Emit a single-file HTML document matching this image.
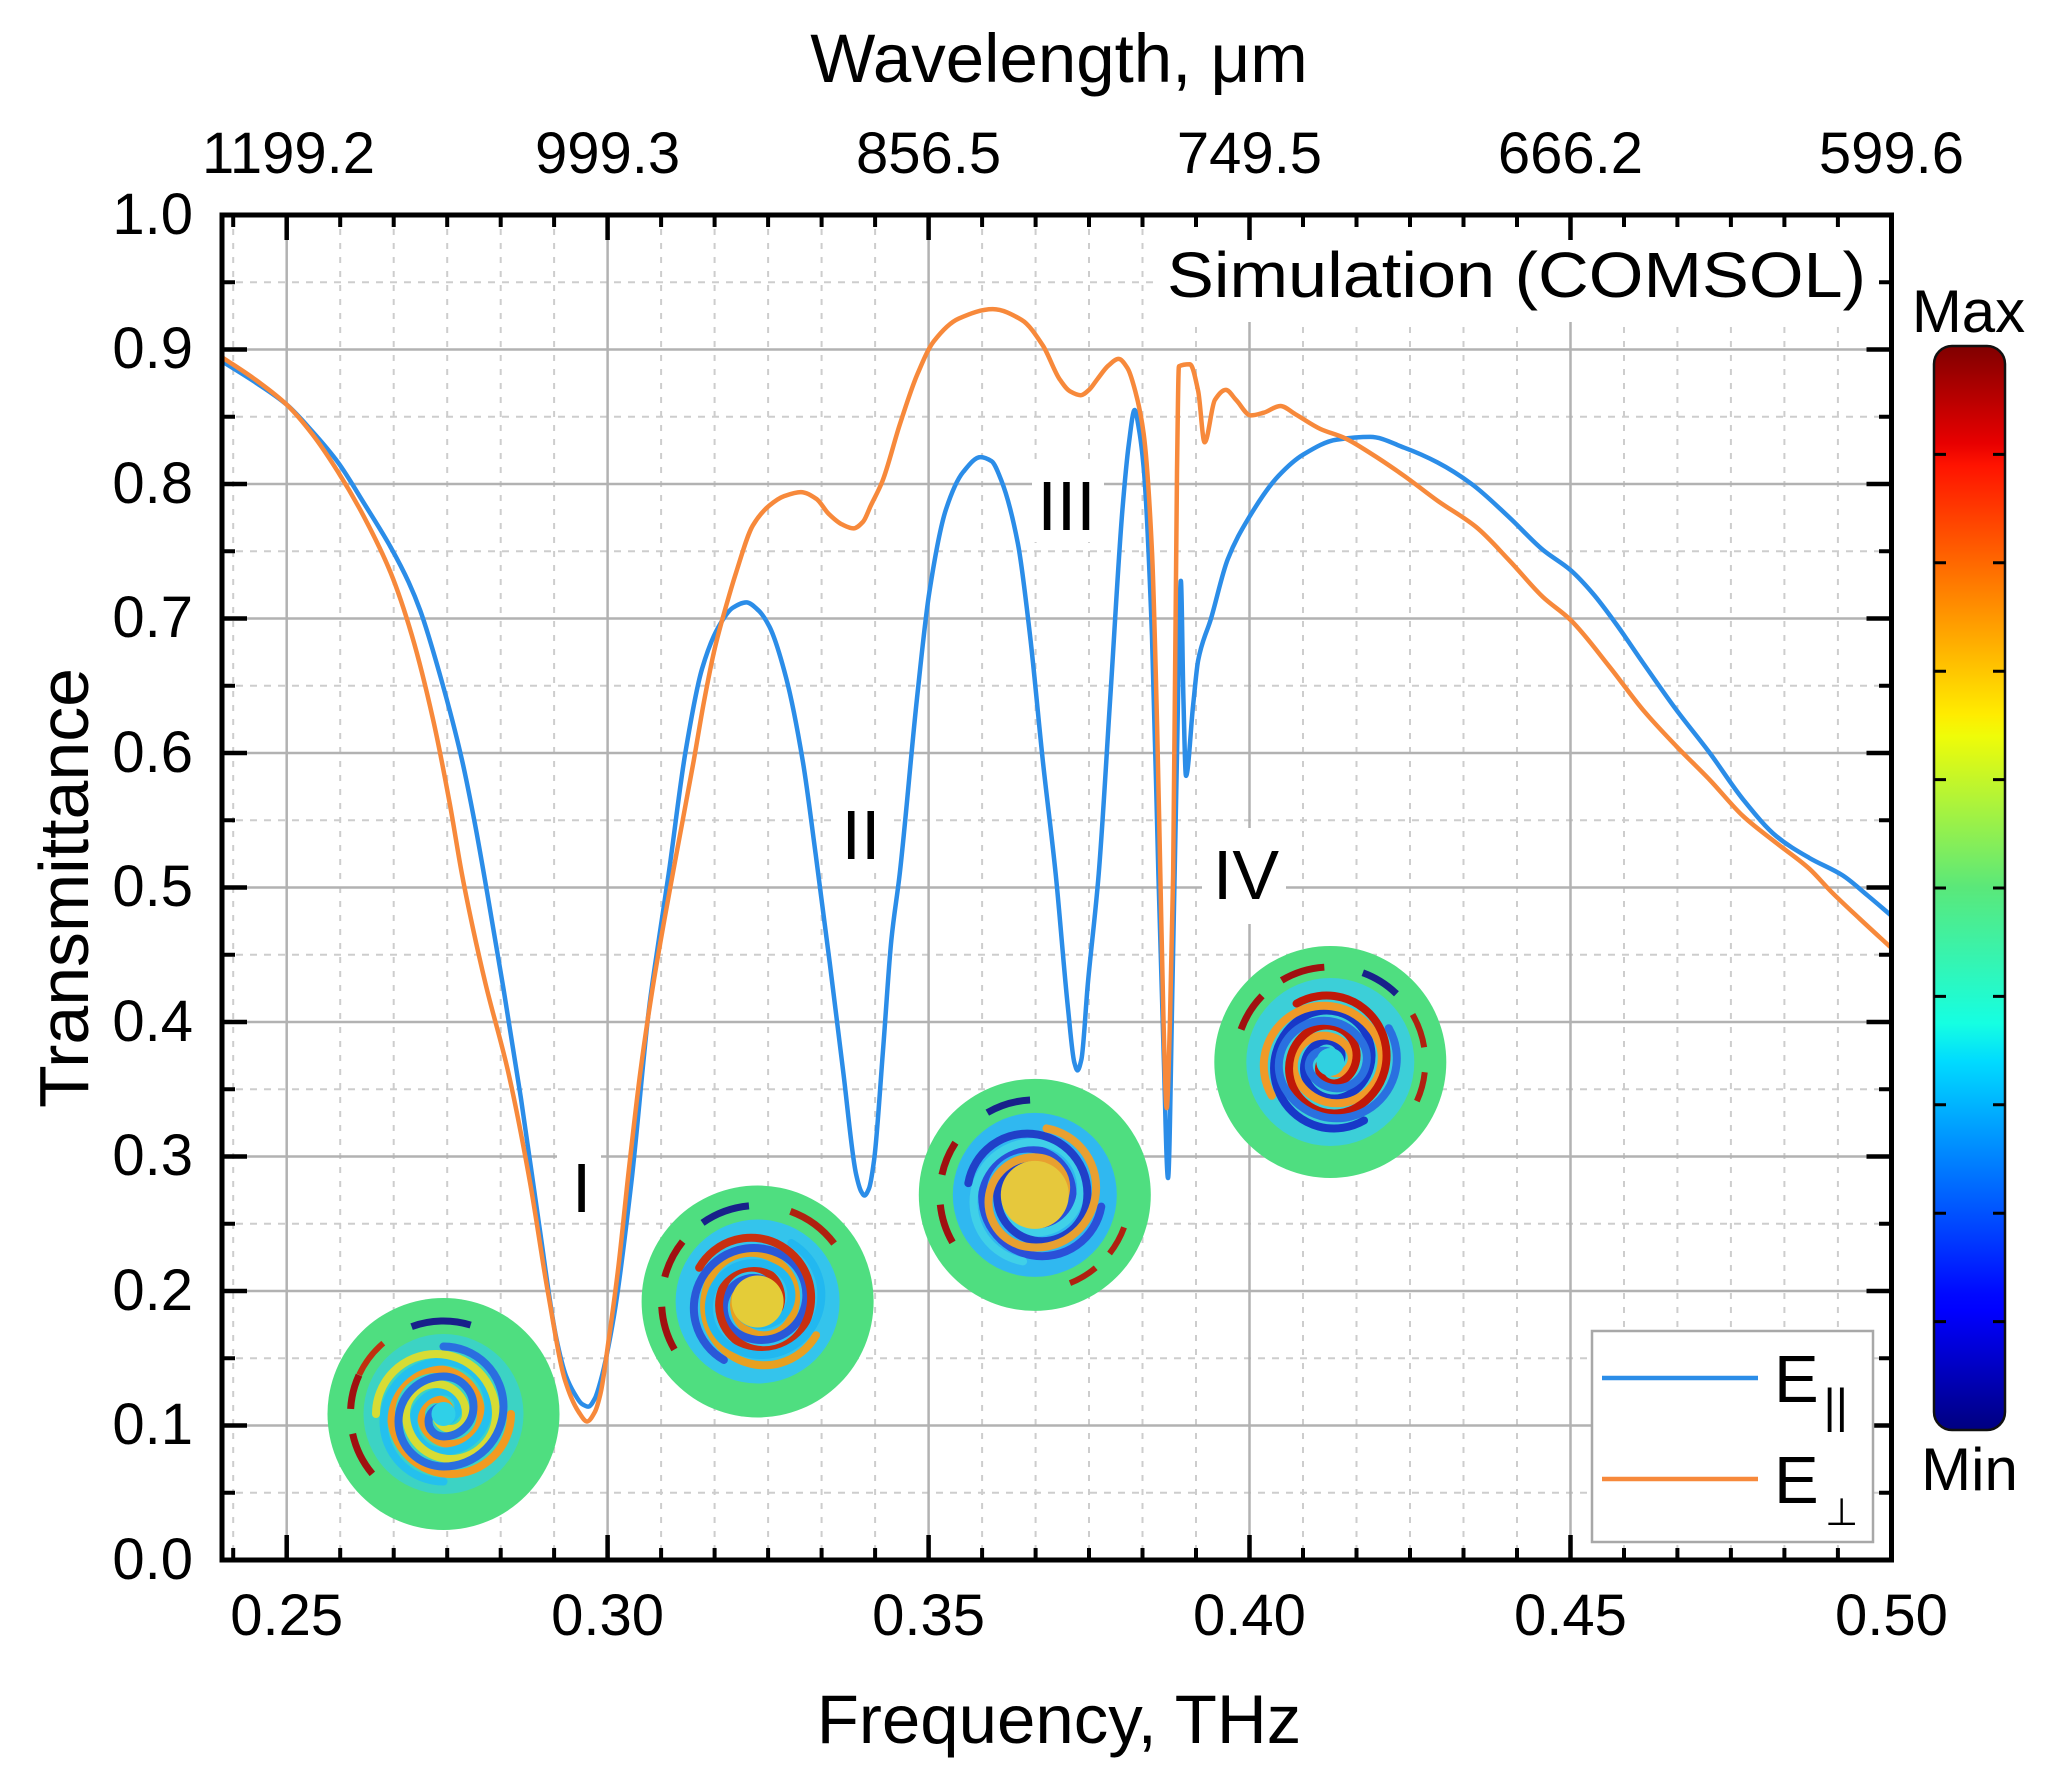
<!DOCTYPE html>
<html>
<head>
<meta charset="utf-8">
<style>
html,body{margin:0;padding:0;background:#fff;}
svg{display:block;}
text{font-family:"Liberation Sans",Arial,sans-serif;fill:#000;}
</style>
</head>
<body>
<svg id="chart" width="2071" height="1780" viewBox="0 0 2071 1780" xmlns="http://www.w3.org/2000/svg">
<defs>
<linearGradient id="jet" x1="0" y1="1" x2="0" y2="0">
<stop offset="0" stop-color="#000080"/>
<stop offset="0.11" stop-color="#0000ff"/>
<stop offset="0.125" stop-color="#0008ff"/>
<stop offset="0.34" stop-color="#00dbff"/>
<stop offset="0.375" stop-color="#15ffe2"/>
<stop offset="0.5" stop-color="#5ae87a"/>
<stop offset="0.64" stop-color="#effc08"/>
<stop offset="0.66" stop-color="#ffec00"/>
<stop offset="0.89" stop-color="#ff1300"/>
<stop offset="0.91" stop-color="#e80000"/>
<stop offset="1" stop-color="#800000"/>
</linearGradient>
</defs>
<rect x="0" y="0" width="2071" height="1780" fill="#fff"/>

<!-- minor grid -->
<path fill="none" stroke="#cdcdcd" stroke-width="2" stroke-dasharray="6 8" d="
M233.2 215V1560 M340.2 215V1560 M393.7 215V1560 M447.2 215V1560 M500.7 215V1560 M554.1 215V1560
M661.1 215V1560 M714.6 215V1560 M768.1 215V1560 M821.6 215V1560 M875.1 215V1560
M982.1 215V1560 M1035.6 215V1560 M1089.0 215V1560 M1142.5 215V1560 M1196.0 215V1560
M1303.0 215V1560 M1356.5 215V1560 M1410.0 215V1560 M1463.5 215V1560 M1517.0 215V1560
M1624.0 215V1560 M1677.4 215V1560 M1730.9 215V1560 M1784.4 215V1560 M1837.9 215V1560"/>
<path fill="none" stroke="#cdcdcd" stroke-width="2" stroke-dasharray="7 7" d="
M222 282.25H1891 M222 416.75H1891 M222 551.25H1891 M222 685.75H1891 M222 820.25H1891
M222 954.75H1891 M222 1089.25H1891 M222 1223.75H1891 M222 1358.25H1891 M222 1492.75H1891"/>
<!-- major grid -->
<path fill="none" stroke="#b2b2b2" stroke-width="2.5" d="
M286.7 215V1560 M607.6 215V1560 M928.6 215V1560 M1249.5 215V1560 M1570.5 215V1560
M222 349.5H1891 M222 484H1891 M222 618.5H1891 M222 753H1891 M222 887.5H1891
M222 1022H1891 M222 1156.5H1891 M222 1291H1891 M222 1425.5H1891"/>

<!-- label backgrounds -->
<rect x="1155" y="218" width="734" height="104" fill="#fff"/>
<rect x="557" y="1150" width="44" height="72" fill="#fff"/>
<rect x="836" y="798" width="52" height="72" fill="#fff"/>
<rect x="1032" y="462" width="72" height="80" fill="#fff"/>
<rect x="1202" y="828" width="84" height="96" fill="#fff"/>

<!-- field maps -->
<g transform="translate(443.5,1414)">
<circle r="116" fill="#4fde80"/>
<circle r="80" fill="#3cd3c4"/>
<g fill="none" stroke-width="8" stroke-linecap="round">
<path d="M7.5 0A15 15 0 0 0 -22.5 0A30 30 0 0 0 37.5 0A45 45 0 0 0 -52.5 0A60 60 0 0 0 67.5 0" stroke="#f29a20"/>
<path d="M7.5 0A15 15 0 0 0 -22.5 0A30 30 0 0 0 37.5 0A45 45 0 0 0 -52.5 0A60 60 0 0 0 67.5 0" stroke="#24c0ee" transform="rotate(90)"/>
<path d="M7.5 0A15 15 0 0 0 -22.5 0A30 30 0 0 0 37.5 0A45 45 0 0 0 -52.5 0A60 60 0 0 0 67.5 0" stroke="#d7dc34" transform="rotate(180)"/>
<path d="M7.5 0A15 15 0 0 0 -22.5 0A30 30 0 0 0 37.5 0A45 45 0 0 0 -52.5 0A60 60 0 0 0 67.5 0" stroke="#2a6ee0" transform="rotate(270)"/>
</g>
<circle r="12" fill="#2fd0e8"/>
<circle r="93" fill="none" stroke="#a01010" stroke-width="7" stroke-dasharray="45 25 35 479" transform="rotate(140)"/>
<circle r="93" fill="none" stroke="#18208a" stroke-width="7" stroke-dasharray="60 524" transform="rotate(250)"/>
<circle r="93" fill="none" stroke="#c03010" stroke-width="6" stroke-dasharray="40 544" transform="rotate(205)"/>
</g>

<g transform="translate(757.6,1301.5)">
<circle r="116" fill="#4fde80"/>
<circle r="82" fill="#34c4ec"/>
<g fill="none" stroke-width="8" stroke-linecap="round">
<path d="M7.5 0A15 15 0 0 0 -22.5 0A30 30 0 0 0 37.5 0A45 45 0 0 0 -52.5 0A60 60 0 0 0 67.5 0" stroke="#e8a020" transform="rotate(30)"/>
<path d="M7.5 0A15 15 0 0 0 -22.5 0A30 30 0 0 0 37.5 0A45 45 0 0 0 -52.5 0A60 60 0 0 0 67.5 0" stroke="#2a58d8" transform="rotate(120)"/>
<path d="M7.5 0A15 15 0 0 0 -22.5 0A30 30 0 0 0 37.5 0A45 45 0 0 0 -52.5 0A60 60 0 0 0 67.5 0" stroke="#c83010" transform="rotate(210)"/>
<path d="M7.5 0A15 15 0 0 0 -22.5 0A30 30 0 0 0 37.5 0A45 45 0 0 0 -52.5 0A60 60 0 0 0 67.5 0" stroke="#22b8f0" transform="rotate(300)"/>
</g>
<circle r="26" fill="#e4cc38"/>
<circle r="96" fill="none" stroke="#a01010" stroke-width="7" stroke-dasharray="45 30 40 488" transform="rotate(150)"/>
<circle r="96" fill="none" stroke="#18208a" stroke-width="7" stroke-dasharray="50 553" transform="rotate(235)"/>
<circle r="96" fill="none" stroke="#b02010" stroke-width="7" stroke-dasharray="55 548" transform="rotate(290)"/>
</g>

<g transform="translate(1034.8,1194.9)">
<circle r="116" fill="#4fde80"/>
<circle r="82" fill="#30b8f0"/>
<g fill="none" stroke-width="8" stroke-linecap="round">
<path d="M7.5 0A15 15 0 0 0 -22.5 0A30 30 0 0 0 37.5 0A45 45 0 0 0 -52.5 0A60 60 0 0 0 67.5 0" stroke="#2a50d8" transform="rotate(10)"/>
<path d="M7.5 0A15 15 0 0 0 -22.5 0A30 30 0 0 0 37.5 0A45 45 0 0 0 -52.5 0A60 60 0 0 0 67.5 0" stroke="#40d0e8" transform="rotate(100)"/>
<path d="M7.5 0A15 15 0 0 0 -22.5 0A30 30 0 0 0 37.5 0A45 45 0 0 0 -52.5 0A60 60 0 0 0 67.5 0" stroke="#2040c8" transform="rotate(190)"/>
<path d="M7.5 0A15 15 0 0 0 -22.5 0A30 30 0 0 0 37.5 0A45 45 0 0 0 -52.5 0A60 60 0 0 0 67.5 0" stroke="#e8a030" transform="rotate(280)"/>
</g>
<circle r="34" fill="#e6c83c"/>
<circle r="95" fill="none" stroke="#a01010" stroke-width="7" stroke-dasharray="40 30 35 492" transform="rotate(150)"/>
<circle r="95" fill="none" stroke="#18208a" stroke-width="7" stroke-dasharray="45 552" transform="rotate(240)"/>
<circle r="95" fill="none" stroke="#b02010" stroke-width="6" stroke-dasharray="30 20 30 517" transform="rotate(20)"/>
</g>

<g transform="translate(1330.3,1062)">
<circle r="116" fill="#4fde80"/>
<circle r="84" fill="#3ccfd8"/>
<g fill="none" stroke-width="8" stroke-linecap="round">
<path d="M7.5 0A15 15 0 0 0 -22.5 0A30 30 0 0 0 37.5 0A45 45 0 0 0 -52.5 0A60 60 0 0 0 67.5 0" stroke="#1838c8" transform="rotate(60)"/>
<path d="M7.5 0A15 15 0 0 0 -22.5 0A30 30 0 0 0 37.5 0A45 45 0 0 0 -52.5 0A60 60 0 0 0 67.5 0" stroke="#f09a28" transform="rotate(150)"/>
<path d="M7.5 0A15 15 0 0 0 -22.5 0A30 30 0 0 0 37.5 0A45 45 0 0 0 -52.5 0A60 60 0 0 0 67.5 0" stroke="#c01808" transform="rotate(240)"/>
<path d="M7.5 0A15 15 0 0 0 -22.5 0A30 30 0 0 0 37.5 0A45 45 0 0 0 -52.5 0A60 60 0 0 0 67.5 0" stroke="#2a70e0" transform="rotate(330)"/>
</g>
<circle r="14" fill="#30d0e0"/>
<circle r="95" fill="none" stroke="#a01010" stroke-width="7" stroke-dasharray="40 25 45 487" transform="rotate(200)"/>
<circle r="95" fill="none" stroke="#18208a" stroke-width="7" stroke-dasharray="40 557" transform="rotate(290)"/>
<circle r="95" fill="none" stroke="#b02010" stroke-width="6" stroke-dasharray="35 25 30 507" transform="rotate(330)"/>
</g>

<!-- curves -->
<g id="curvegroup" transform="translate(222.5,1560) scale(6419,-1345) translate(-0.24,0)" fill="none" stroke-linejoin="round" stroke-linecap="round">
<polyline id="cb" vector-effect="non-scaling-stroke" stroke="#2b8de8" stroke-width="4.5" points="0.24,0.891 0.245,0.876 0.25,0.859 0.254,0.839 0.258,0.816 0.262,0.786 0.2662,0.753 0.269,0.727 0.2708,0.706 0.274,0.656 0.2773,0.595 0.2793,0.548 0.2812,0.497 0.2838,0.424 0.2865,0.343 0.2893,0.25 0.292,0.165 0.2935,0.137 0.2948,0.124 0.296,0.116 0.297,0.114 0.298,0.12 0.2989,0.133 0.301,0.182 0.3037,0.281 0.3065,0.412 0.308,0.462 0.3095,0.51 0.3121,0.6 0.3147,0.6625 0.3173,0.694 0.3195,0.708 0.3216,0.712 0.3235,0.706 0.3252,0.694 0.3278,0.656 0.3304,0.594 0.3324,0.525 0.3346,0.444 0.3367,0.363 0.3387,0.287 0.3395,0.274 0.34,0.271 0.3407,0.276 0.3415,0.297 0.3429,0.379 0.3442,0.461 0.3455,0.51 0.3482,0.641 0.3501,0.719 0.3527,0.781 0.3554,0.809 0.3581,0.82 0.3598,0.817 0.3613,0.803 0.3639,0.756 0.3658,0.6875 0.3678,0.594 0.3698,0.51 0.3717,0.411 0.3727,0.37 0.3732,0.364 0.3738,0.372 0.3748,0.428 0.3765,0.51 0.3783,0.641 0.3802,0.781 0.3812,0.83 0.3821,0.855 0.3828,0.84 0.3835,0.8125 0.3848,0.6875 0.3858,0.51 0.3866,0.38 0.3873,0.284 0.388,0.43 0.3887,0.6 0.3893,0.728 0.3897,0.64 0.3901,0.583 0.3912,0.635 0.392,0.669 0.394,0.7 0.3966,0.744 0.3999,0.775 0.4045,0.806 0.4084,0.822 0.4136,0.833 0.4188,0.835 0.4241,0.827 0.4293,0.816 0.4346,0.8 0.4405,0.775 0.4457,0.751 0.45,0.736 0.4535,0.7185 0.4571,0.696 0.4613,0.667 0.4665,0.632 0.4717,0.6 0.4769,0.5654 0.4821,0.538 0.4872,0.522 0.4924,0.509 0.4963,0.494 0.5,0.479"/>
<polyline id="co" vector-effect="non-scaling-stroke" stroke="#f7893b" stroke-width="4.5" points="0.24,0.894 0.245,0.878 0.25,0.859 0.254,0.837 0.258,0.809 0.262,0.776 0.2662,0.734 0.2695,0.6875 0.2728,0.625 0.2754,0.5625 0.2773,0.51 0.279,0.47 0.281,0.428 0.2845,0.363 0.2879,0.281 0.2907,0.199 0.2934,0.133 0.2955,0.11 0.2968,0.103 0.298,0.11 0.2989,0.124 0.3002,0.165 0.3016,0.215 0.3033,0.29 0.3051,0.363 0.307,0.425 0.3088,0.475 0.3106,0.522 0.3134,0.594 0.315,0.638 0.3167,0.678 0.3185,0.71 0.32,0.734 0.3226,0.769 0.3252,0.784 0.3275,0.791 0.3301,0.794 0.3325,0.789 0.3344,0.778 0.3365,0.77 0.3383,0.767 0.3398,0.772 0.341,0.784 0.3428,0.802 0.3455,0.844 0.3482,0.881 0.3508,0.906 0.3547,0.923 0.36,0.93 0.3645,0.922 0.3678,0.903 0.3704,0.878 0.372,0.869 0.3737,0.866 0.375,0.87 0.3763,0.878 0.378,0.888 0.3796,0.893 0.381,0.886 0.3822,0.869 0.3835,0.8375 0.3848,0.75 0.3856,0.62 0.3861,0.51 0.3866,0.4 0.3871,0.336 0.3876,0.4 0.3881,0.51 0.3887,0.81 0.389,0.8875 0.3907,0.889 0.392,0.869 0.393,0.831 0.3946,0.8625 0.3963,0.87 0.3979,0.8625 0.4002,0.851 0.4022,0.853 0.4048,0.858 0.4071,0.852 0.411,0.841 0.4149,0.834 0.4188,0.823 0.4241,0.806 0.4293,0.7875 0.4353,0.768 0.4405,0.743 0.4457,0.716 0.45,0.699 0.4561,0.664 0.4613,0.632 0.4665,0.605 0.4717,0.58 0.4769,0.553 0.4821,0.533 0.4872,0.514 0.4906,0.497 0.495,0.477 0.5,0.455"/>
</g>

<!-- axes frame -->
<rect x="222" y="215" width="1669.5" height="1345" fill="none" stroke="#000" stroke-width="5"/>
<!-- ticks -->
<path fill="none" stroke="#000" stroke-width="4.5" d="
M286.7 1560V1535 M607.6 1560V1535 M928.6 1560V1535 M1249.5 1560V1535 M1570.5 1560V1535
M286.7 215V240 M607.6 215V240 M928.6 215V240 M1249.5 215V240 M1570.5 215V240
M222 349.5H247 M222 484H247 M222 618.5H247 M222 753H247 M222 887.5H247 M222 1022H247 M222 1156.5H247 M222 1291H247 M222 1425.5H247
M1891.5 349.5H1866.5 M1891.5 484H1866.5 M1891.5 618.5H1866.5 M1891.5 753H1866.5 M1891.5 887.5H1866.5 M1891.5 1022H1866.5 M1891.5 1156.5H1866.5 M1891.5 1291H1866.5 M1891.5 1425.5H1866.5"/>
<path fill="none" stroke="#000" stroke-width="4" d="
M233.2 1560V1548 M340.2 1560V1548 M393.7 1560V1548 M447.2 1560V1548 M500.7 1560V1548 M554.1 1560V1548
M661.1 1560V1548 M714.6 1560V1548 M768.1 1560V1548 M821.6 1560V1548 M875.1 1560V1548
M982.1 1560V1548 M1035.6 1560V1548 M1089.0 1560V1548 M1142.5 1560V1548 M1196.0 1560V1548
M1303.0 1560V1548 M1356.5 1560V1548 M1410.0 1560V1548 M1463.5 1560V1548 M1517.0 1560V1548
M1624.0 1560V1548 M1677.4 1560V1548 M1730.9 1560V1548 M1784.4 1560V1548 M1837.9 1560V1548
M233.2 215V227 M340.2 215V227 M393.7 215V227 M447.2 215V227 M500.7 215V227 M554.1 215V227
M661.1 215V227 M714.6 215V227 M768.1 215V227 M821.6 215V227 M875.1 215V227
M982.1 215V227 M1035.6 215V227 M1089.0 215V227 M1142.5 215V227 M1196.0 215V227
M1303.0 215V227 M1356.5 215V227 M1410.0 215V227 M1463.5 215V227 M1517.0 215V227
M1624.0 215V227 M1677.4 215V227 M1730.9 215V227 M1784.4 215V227 M1837.9 215V227
M222 282.25H235 M222 416.75H235 M222 551.25H235 M222 685.75H235 M222 820.25H235 M222 954.75H235 M222 1089.25H235 M222 1223.75H235 M222 1358.25H235 M222 1492.75H235
M1891.5 282.25H1879 M1891.5 416.75H1879 M1891.5 551.25H1879 M1891.5 685.75H1879 M1891.5 820.25H1879 M1891.5 954.75H1879 M1891.5 1089.25H1879 M1891.5 1223.75H1879 M1891.5 1358.25H1879 M1891.5 1492.75H1879"/>

<!-- y tick labels -->
<g font-size="58" text-anchor="end">
<text x="193" y="234">1.0</text>
<text x="193" y="368">0.9</text>
<text x="193" y="503">0.8</text>
<text x="193" y="637">0.7</text>
<text x="193" y="772">0.6</text>
<text x="193" y="906">0.5</text>
<text x="193" y="1041">0.4</text>
<text x="193" y="1175">0.3</text>
<text x="193" y="1310">0.2</text>
<text x="193" y="1444">0.1</text>
<text x="193" y="1579">0.0</text>
</g>
<!-- x tick labels -->
<g font-size="58" text-anchor="middle">
<text x="286.7" y="1635">0.25</text>
<text x="607.6" y="1635">0.30</text>
<text x="928.6" y="1635">0.35</text>
<text x="1249.5" y="1635">0.40</text>
<text x="1570.5" y="1635">0.45</text>
<text x="1891.4" y="1635">0.50</text>
<text x="288.5" y="173">1199.2</text>
<text x="607.6" y="173">999.3</text>
<text x="928.6" y="173">856.5</text>
<text x="1249.5" y="173">749.5</text>
<text x="1570.5" y="173">666.2</text>
<text x="1891.4" y="173">599.6</text>
</g>

<!-- titles -->
<text x="1059" y="82" font-size="69" text-anchor="middle">Wavelength, μm</text>
<text x="1059" y="1743" font-size="69" text-anchor="middle">Frequency, THz</text>
<text transform="translate(88,888) rotate(-90)" font-size="70" text-anchor="middle" textLength="440" lengthAdjust="spacingAndGlyphs">Transmittance</text>
<text x="1167" y="297" font-size="64" textLength="699" lengthAdjust="spacingAndGlyphs">Simulation (COMSOL)</text>

<!-- roman labels -->
<g font-size="70" text-anchor="middle">
<text x="581.6" y="1212">I</text>
<text x="861" y="859">II</text>
<text x="1066.5" y="530">III</text>
<text x="1246" y="899">IV</text>
</g>

<!-- legend -->
<rect x="1592" y="1331" width="281" height="211" fill="#fff" stroke="#a8a8a8" stroke-width="2.5"/>
<line x1="1602" y1="1378" x2="1758" y2="1378" stroke="#2b8de8" stroke-width="4.5"/>
<line x1="1602" y1="1479" x2="1758" y2="1479" stroke="#f7893b" stroke-width="4.5"/>
<text x="1774" y="1402" font-size="67">E</text>
<text x="1823.5" y="1422" font-size="47">||</text>
<text x="1774" y="1503" font-size="67">E</text>
<text x="1825" y="1525" font-size="38" style="font-family:'DejaVu Sans',sans-serif">⊥</text>

<!-- colorbar -->
<text x="1968.5" y="332" font-size="60" text-anchor="middle">Max</text>
<text x="1969.5" y="1490" font-size="60" text-anchor="middle">Min</text>
<rect x="1934" y="346" width="71" height="1084" rx="18" ry="18" fill="url(#jet)" stroke="#111" stroke-width="2.5"/>
<path fill="none" stroke="#000" stroke-width="3" d="
M1934 454.4H1946 M2005 454.4H1993
M1934 562.8H1946 M2005 562.8H1993
M1934 671.2H1946 M2005 671.2H1993
M1934 779.6H1946 M2005 779.6H1993
M1934 888H1946 M2005 888H1993
M1934 996.4H1946 M2005 996.4H1993
M1934 1104.8H1946 M2005 1104.8H1993
M1934 1213.2H1946 M2005 1213.2H1993
M1934 1321.6H1946 M2005 1321.6H1993"/>
</svg>
<script>
(function(){
  function smooth(id){
    var pl=document.getElementById(id); if(!pl) return;
    var raw=pl.getAttribute('points').trim().split(/\s+/);
    var pts=raw.map(function(s){var a=s.split(',');return [222.5+(parseFloat(a[0])-0.24)*6419, 1560-parseFloat(a[1])*1345];});
    var n=pts.length,h=[],d=[],m=[],i;
    for(i=0;i<n-1;i++){h[i]=pts[i+1][0]-pts[i][0]; d[i]=(pts[i+1][1]-pts[i][1])/h[i];}
    m[0]=d[0]; m[n-1]=d[n-2];
    for(i=1;i<n-1;i++){
      if(d[i-1]*d[i]<=0){m[i]=0;}
      else{m[i]=3*(h[i-1]+h[i])/((2*h[i]+h[i-1])/d[i-1]+(h[i]+2*h[i-1])/d[i]);}
    }
    var s='M'+pts[0][0].toFixed(2)+' '+pts[0][1].toFixed(2);
    for(i=0;i<n-1;i++){
      var x0=pts[i][0],y0=pts[i][1],x1=pts[i+1][0],y1=pts[i+1][1],hh=h[i];
      s+=' C'+(x0+hh/3).toFixed(2)+' '+(y0+m[i]*hh/3).toFixed(2)+' '+(x1-hh/3).toFixed(2)+' '+(y1-m[i+1]*hh/3).toFixed(2)+' '+x1.toFixed(2)+' '+y1.toFixed(2);
    }
    var p=document.createElementNS('http://www.w3.org/2000/svg','path');
    p.setAttribute('d',s); p.setAttribute('fill','none');
    p.setAttribute('stroke',pl.getAttribute('stroke'));
    p.setAttribute('stroke-width','4.5');
    p.setAttribute('stroke-linejoin','round');
    p.setAttribute('stroke-linecap','round');
    var g=document.getElementById('curvegroup');
    g.parentNode.insertBefore(p,g);
    pl.style.display='none';
  }
  try{ smooth('cb'); smooth('co'); }catch(e){}
})();
</script>
</body>
</html>
